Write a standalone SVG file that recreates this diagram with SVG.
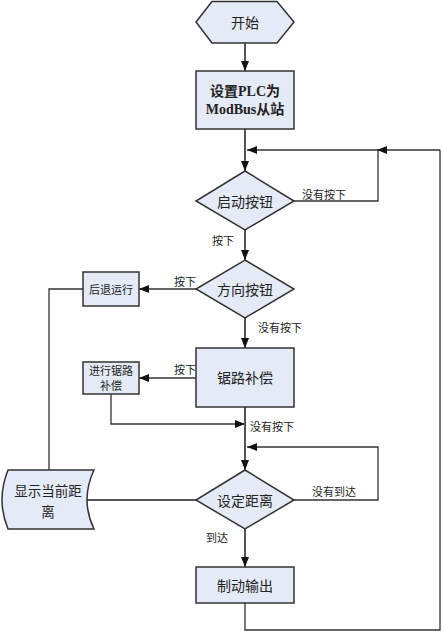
<svg xmlns="http://www.w3.org/2000/svg" width="442" height="631" viewBox="0 0 442 631">
<style>
.n{fill:#e4eaf6;stroke:#333;stroke-width:1.5}
.t{font-family:"Noto Sans CJK SC","Liberation Sans",sans-serif;font-size:14px;fill:#222;text-anchor:middle;dominant-baseline:central}
.b{font-family:"Liberation Serif","Noto Sans CJK SC",serif;font-size:14px;font-weight:bold;fill:#222;text-anchor:middle;dominant-baseline:central}
.s{font-family:"Noto Sans CJK SC","Liberation Sans",sans-serif;font-size:11px;fill:#222;text-anchor:middle;dominant-baseline:central}
.c{fill:none;stroke:#333;stroke-width:1.3}
.v{fill:none;stroke:#555;stroke-width:2}
.a{marker-end:url(#ah)}
</style>
<defs>
<marker id="ah" markerUnits="userSpaceOnUse" markerWidth="11" markerHeight="9" refX="10" refY="4" orient="auto">
<path d="M0,0 L10,4 L0,8 z" fill="#111"/>
</marker>
</defs>
<rect width="442" height="631" fill="#fff"/>
<g id="connectors">
<path class="v a" d="M245,43 V71"/>
<path class="v a" d="M245,129 V171"/>
<path class="c" d="M294,201 H378 V150"/>
<path class="c a" d="M440,150 H377"/>
<path class="c a" d="M378,150 H247"/>
<path class="v a" d="M245,230 V260"/>
<path class="c a" d="M196,289 H139"/>
<path class="c" d="M83,289 H49 V470"/>
<path class="v a" d="M245,318 V348"/>
<path class="c a" d="M196,378 H139"/>
<path class="c a" d="M111,394 V424 H245"/>
<path class="v a" d="M245,407 V470"/>
<path class="c a" d="M294,500 H378 V447 H247"/>
<path class="v" d="M196,500 H87"/>
<path class="v a" d="M245,529 V567"/>
<path class="c" d="M245,603 V630 H440 V150"/>
<text class="s" x="324" y="194">没有按下</text>
<text class="s" x="223" y="240">按下</text>
<text class="s" x="185" y="281">按下</text>
<text class="s" x="280" y="327">没有按下</text>
<text class="s" x="185" y="369">按下</text>
<text class="s" x="272" y="426">没有按下</text>
<text class="s" x="334" y="491">没有到达</text>
<text class="s" x="217" y="537">到达</text>
</g>
<g id="start">
<polygon class="n" points="196,22 212,1.5 277,1.5 294,22 277,43 212,43"/>
<text class="t" x="245" y="22">开始</text>
</g>
<g id="setup">
<rect class="n" x="196" y="71" width="98" height="58"/>
<text class="b" x="245" y="91">设置PLC为</text>
<text class="b" x="245" y="109">ModBus从站</text>
</g>
<g id="startButton">
<polygon class="n" points="245,171 294,201 245,230 196,201"/>
<text class="t" x="245" y="201">启动按钮</text>
</g>
<g id="dirButton">
<polygon class="n" points="245,260 294,289 245,318 196,289"/>
<text class="t" x="245" y="289">方向按钮</text>
</g>
<g id="backward">
<rect class="n" x="83" y="272" width="56" height="34"/>
<text class="s" x="111" y="289">后退运行</text>
</g>
<g id="sawComp">
<rect class="n" x="196" y="348" width="98" height="59"/>
<text class="t" x="245" y="377">锯路补偿</text>
</g>
<g id="doComp">
<rect class="n" x="83" y="362" width="56" height="32"/>
<text class="s" x="111" y="370">进行锯路</text>
<text class="s" x="111" y="385">补偿</text>
</g>
<g id="setDist">
<polygon class="n" points="245,470 294,500 245,529 196,500"/>
<text class="t" x="245" y="500">设定距离</text>
</g>
<g id="display">
<path class="n" d="M8,470 H94 Q80,500 94,529 H8 Q-4,500 8,470 Z"/>
<text class="t" x="48" y="489.5" style="font-size:13.5px">显示当前距</text>
<text class="t" x="48" y="510.5" style="font-size:13.5px">离</text>
</g>
<g id="brake">
<rect class="n" x="196" y="567" width="98" height="36"/>
<text class="t" x="245" y="585">制动输出</text>
</g>
</svg>
